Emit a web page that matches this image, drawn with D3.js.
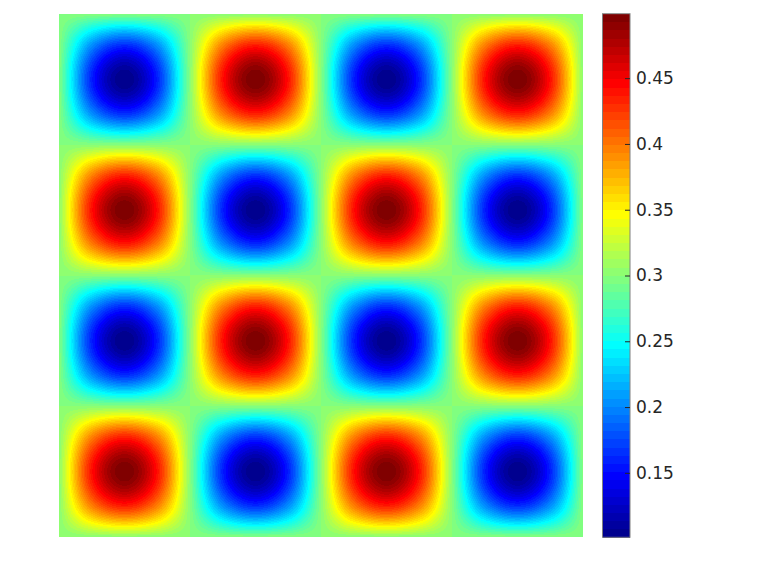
<!DOCTYPE html>
<html>
<head>
<meta charset="utf-8">
<script src="https://cdn.jsdelivr.net/npm/d3@7"></script>
<style>
  body { margin: 0; background: #fff; }
  svg { display: block; }
</style>
</head>
<body>
<div id="chart"></div>
<script>
// Field values at a 17x17 node grid
// (edges, quarter points and blob centres), rows top to bottom
var heat = [
  [.300, .300, .300, .300, .300, .300, .300, .300, .300, .300, .300, .300, .300, .300, .300, .300, .300],
  [.300, .200, .159, .200, .300, .400, .441, .400, .300, .200, .159, .200, .300, .400, .441, .400, .300],
  [.300, .159, .101, .159, .300, .441, .499, .441, .300, .159, .101, .159, .300, .441, .499, .441, .300],
  [.300, .200, .159, .200, .300, .400, .441, .400, .300, .200, .159, .200, .300, .400, .441, .400, .300],
  [.300, .300, .300, .300, .300, .300, .300, .300, .300, .300, .300, .300, .300, .300, .300, .300, .300],
  [.300, .400, .441, .400, .300, .200, .159, .200, .300, .400, .441, .400, .300, .200, .159, .200, .300],
  [.300, .441, .499, .441, .300, .159, .101, .159, .300, .441, .499, .441, .300, .159, .101, .159, .300],
  [.300, .400, .441, .400, .300, .200, .159, .200, .300, .400, .441, .400, .300, .200, .159, .200, .300],
  [.300, .300, .300, .300, .300, .300, .300, .300, .300, .300, .300, .300, .300, .300, .300, .300, .300],
  [.300, .200, .159, .200, .300, .400, .441, .400, .300, .200, .159, .200, .300, .400, .441, .400, .300],
  [.300, .159, .101, .159, .300, .441, .499, .441, .300, .159, .101, .159, .300, .441, .499, .441, .300],
  [.300, .200, .159, .200, .300, .400, .441, .400, .300, .200, .159, .200, .300, .400, .441, .400, .300],
  [.300, .300, .300, .300, .300, .300, .300, .300, .300, .300, .300, .300, .300, .300, .300, .300, .300],
  [.300, .400, .441, .400, .300, .200, .159, .200, .300, .400, .441, .400, .300, .200, .159, .200, .300],
  [.300, .441, .499, .441, .300, .159, .101, .159, .300, .441, .499, .441, .300, .159, .101, .159, .300],
  [.300, .400, .441, .400, .300, .200, .159, .200, .300, .400, .441, .400, .300, .200, .159, .200, .300],
  [.300, .300, .300, .300, .300, .300, .300, .300, .300, .300, .300, .300, .300, .300, .300, .300, .300]
];

// Colour limits and colorbar ticks
var cRange = [0.101, 0.499];
var cTicks = [0.15, 0.2, 0.25, 0.3, 0.35, 0.4, 0.45];
var cTickLabels = ["0.15", "0.2", "0.25", "0.3", "0.35", "0.4", "0.45"];

var width = 768, height = 576;
var plot = {x: 59, y: 14, w: 524, h: 523};
var bar = {x1: 602.5, x2: 630, top: 13.7, bottom: 537.3};

// MATLAB style jet colormap, 64 levels
function jet(m) {
  var n = Math.ceil(m / 4), u = [], out = [], k;
  for (k = 1; k <= n; k++) u.push(k / n);
  for (k = 1; k < n; k++) u.push(1);
  for (k = n; k >= 1; k--) u.push(k / n);
  var g0 = Math.ceil(n / 2) - (m % 4 == 1 ? 1 : 0);
  for (k = 0; k < m; k++) out.push([0, 0, 0]);
  for (k = 0; k < u.length; k++) {
    var g = g0 + k + 1, r = g + n, b = g - n;
    if (r >= 1 && r <= m) out[r - 1][0] = u[k];
    if (g >= 1 && g <= m) out[g - 1][1] = u[k];
    if (b >= 1 && b <= m) out[b - 1][2] = u[k];
  }
  return out.map(function(c) {
    return d3.rgb(Math.round(c[0] * 255), Math.round(c[1] * 255), Math.round(c[2] * 255));
  });
}
var jetColors = jet(64);

var color = d3.scaleQuantize().domain(cRange).range(jetColors);

var svg = d3.select("#chart").append("svg")
  .attr("width", width)
  .attr("height", height);

// Heat map, shaded smoothly between the grid nodes (like shading interp)
var nR = heat.length, nC = heat[0].length;
var gx = d3.scaleLinear().domain([0, plot.w]).range([0, nC - 1]);
var gy = d3.scaleLinear().domain([0, plot.h]).range([0, nR - 1]);

// pad the grid by one node on each side with linear extension
var pad = [];
for (var r = -1; r <= nR; r++) {
  var row = [];
  for (var c = -1; c <= nC; c++) row.push(nodeAt(r, c));
  pad.push(row);
}
function edge(a, b) { return 2 * a - b; }
function nodeAt(r, c) {
  if (r < 0) return edge(nodeAt(0, c), nodeAt(1, c));
  if (r >= nR) return edge(nodeAt(nR - 1, c), nodeAt(nR - 2, c));
  if (c < 0) return edge(heat[r][0], heat[r][1]);
  if (c >= nC) return edge(heat[r][nC - 1], heat[r][nC - 2]);
  return heat[r][c];
}
function cr(p0, p1, p2, p3, t) {
  return 0.5 * ((2 * p1) + (-p0 + p2) * t + (2 * p0 - 5 * p1 + 4 * p2 - p3) * t * t +
    (-p0 + 3 * p1 - 3 * p2 + p3) * t * t * t);
}
function sample(x, y) {
  var i = Math.min(Math.floor(x), nC - 2), j = Math.min(Math.floor(y), nR - 2);
  var tx = x - i, ty = y - j, col = [];
  for (var m = 0; m < 4; m++) {
    var pr = pad[j + m];
    col.push(cr(pr[i], pr[i + 1], pr[i + 2], pr[i + 3], tx));
  }
  return cr(col[0], col[1], col[2], col[3], ty);
}

var canvas = document.createElement("canvas");
canvas.width = plot.w;
canvas.height = plot.h;
var ctx = canvas.getContext("2d");
var img = ctx.createImageData(plot.w, plot.h);
for (var py = 0; py < plot.h; py++) {
  var yy = gy(py + 0.5);
  for (var px = 0; px < plot.w; px++) {
    var cc = color(sample(gx(px + 0.5), yy));
    var o = (py * plot.w + px) * 4;
    img.data[o] = cc.r;
    img.data[o + 1] = cc.g;
    img.data[o + 2] = cc.b;
    img.data[o + 3] = 255;
  }
}
ctx.putImageData(img, 0, 0);

svg.append("image")
  .attr("x", plot.x)
  .attr("y", plot.y)
  .attr("width", plot.w)
  .attr("height", plot.h)
  .attr("href", canvas.toDataURL());

// Colorbar
var cy = d3.scaleLinear().domain(cRange).range([bar.bottom, bar.top]);

svg.append("g")
  .selectAll("rect")
  .data(jetColors)
  .enter()
  .append("rect")
  .attr("x", bar.x1)
  .attr("width", bar.x2 - bar.x1)
  .attr("y", function(d) { return cy(color.invertExtent(d)[1]); })
  .attr("height", function(d) {
    var e = color.invertExtent(d);
    return cy(e[0]) - cy(e[1]) + 0.3;
  })
  .style("fill", function(d) { return d; })
  .style("shape-rendering", "crispEdges");

svg.append("rect")
  .attr("x", bar.x1)
  .attr("y", bar.top)
  .attr("width", bar.x2 - bar.x1)
  .attr("height", bar.bottom - bar.top)
  .style("fill", "none")
  .style("stroke", "#808080")
  .style("stroke-width", 1);

var axis = d3.axisRight(cy)
  .tickValues(cTicks)
  .tickFormat(function(d, i) { return cTickLabels[i]; })
  .tickSizeInner(-5)
  .tickSizeOuter(0)
  .tickPadding(6);

var ax = svg.append("g")
  .attr("transform", "translate(" + bar.x2 + ",0)")
  .call(axis);

ax.select(".domain").remove();
ax.selectAll(".tick line").attr("stroke", "#262626");
ax.selectAll(".tick text")
  .attr("fill", "#262626")
  .style("font-family", "DejaVu Sans, sans-serif")
  .style("font-size", "17px");
</script>
</body>
</html>
